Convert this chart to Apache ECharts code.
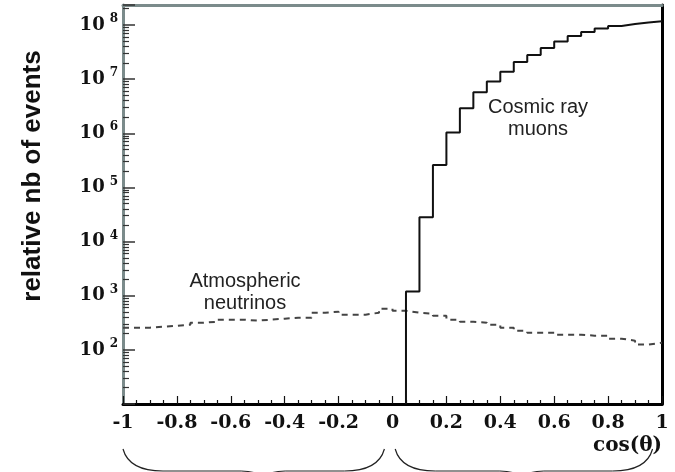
<!DOCTYPE html>
<html>
<head>
<meta charset="utf-8">
<script src="https://cdn.jsdelivr.net/npm/echarts@6/dist/echarts.min.js"></script>
<style>html,body{margin:0;padding:0;background:#fff;}#c{width:675px;height:472px;}</style>
</head>
<body>
<div id="c"></div>
<script>
// ---- data ----
const neutrinoEdges = [-1,-0.95,-0.9,-0.85,-0.8,-0.75,-0.7,-0.65,-0.6,-0.55,-0.5,-0.45,-0.4,-0.35,-0.3,-0.25,-0.2,-0.15,-0.1,-0.05,0,0.05,0.1,0.15,0.2,0.25,0.3,0.35,0.4,0.45,0.5,0.55,0.6,0.65,0.7,0.75,0.8,0.85,0.9,0.95,1];
const neutrinoCounts = [257,257,268,279,292,318,331,361,361,346,361,377,393,393,485,507,446,446,485,575,528,485,466,428,361,331,318,292,257,226,207,207,190,190,183,183,161,148,125,136];
const muonEdges = [0.05,0.1,0.15,0.2,0.25,0.3,0.35,0.4,0.45,0.5,0.55,0.6,0.65,0.7,0.75,0.8,0.85,0.9,0.95,1];
const muonCounts = [1190,28000,260000,1030000,2900000,5700000,9000000,13700000,20700000,28000000,37700000,49600000,62700000,74300000,86000000,96000000,104000000,111000000,117000000];
const yLabelExponents = [2,3,4,5,6,7,8];
const xMin = -1, xMax = 1, xInterval = 0.2;
const yMin = 10, yMax = 2.34e8;
const braceRanges = [[-1, -0.03, -0.48], [0.01, 0.965, 0.48]];
const yTitle = 'relative nb of events';
const xTitle = 'cos(θ)';
const labelNeutrino = 'Atmospheric\nneutrinos';
const labelMuon = 'Cosmic ray\nmuons';

// ---- derived ----
const neutrinoData = neutrinoCounts.map((v, i) => [neutrinoEdges[i], v]);
neutrinoData.push([neutrinoEdges[neutrinoEdges.length - 1], neutrinoCounts[neutrinoCounts.length - 1]]);
const muonData = [[muonEdges[0], yMin]].concat(muonCounts.map((v, i) => [muonEdges[i], v]));
muonData.push([muonEdges[muonEdges.length - 1], muonCounts[muonCounts.length - 1]]);

const chart = echarts.init(document.getElementById('c'));
const gray = '#7b8b8b';
const serif = 'DejaVu Serif';
const option = {
  animation: false,
  grid: {left: 123, right: 13, top: 5, bottom: 68},
  xAxis: [{
    type: 'value', min: xMin, max: xMax, interval: xInterval, position: 'bottom',
    axisLine: {show: true, onZero: false, lineStyle: {color: '#000', width: 3}},
    axisTick: {show: true, inside: true, length: 8, lineStyle: {color: '#111', width: 1.2}},
    minorTick: {show: true, splitNumber: 4, length: 4, lineStyle: {color: '#111', width: 1.2}},
    axisLabel: {margin: 10, color: '#111', fontFamily: serif, fontWeight: 'bold', fontSize: 19},
    splitLine: {show: false}
  }, {
    type: 'value', min: xMin, max: xMax, position: 'top',
    axisLine: {show: true, onZero: false, lineStyle: {color: gray, width: 3}},
    axisTick: {show: false}, axisLabel: {show: false}, splitLine: {show: false}
  }],
  yAxis: [{
    type: 'log', min: yMin, max: yMax, position: 'left',
    axisLine: {show: true, onZero: false, lineStyle: {color: gray, width: 3}},
    axisTick: {show: true, inside: true, length: 12, lineStyle: {color: '#333', width: 1.5}},
    minorTick: {show: true, splitNumber: 9, length: 6, lineStyle: {color: '#333', width: 1.2}},
    axisLabel: {
      show: true, margin: 5,
      formatter: v => {
        const e = Math.log10(v), r = Math.round(e);
        if (Math.abs(e - r) > 1e-6 || yLabelExponents.indexOf(r) < 0) return '';
        return '{b|10}{e|' + r + '}';
      },
      rich: {
        b: {fontFamily: serif, fontWeight: 'bold', fontSize: 18, color: '#111', lineHeight: 24},
        e: {fontFamily: serif, fontWeight: 'bold', fontSize: 12, color: '#111', lineHeight: 12, verticalAlign: 'top', padding: [0, 0, 0, 5]}
      }
    },
    splitLine: {show: false}
  }, {
    type: 'log', min: yMin, max: yMax, position: 'right',
    axisLine: {show: true, onZero: false, lineStyle: {color: '#000', width: 3}},
    axisTick: {show: false}, axisLabel: {show: false}, splitLine: {show: false}
  }],
  series: [{
    name: 'Atmospheric neutrinos', type: 'line', step: 'end', data: neutrinoData,
    xAxisIndex: 0, yAxisIndex: 0, showSymbol: false, symbol: 'none',
    lineStyle: {color: '#444', width: 2, type: [6, 5]}, z: 3
  }, {
    name: 'Cosmic ray muons', type: 'line', step: 'end', data: muonData,
    xAxisIndex: 0, yAxisIndex: 0, showSymbol: false, symbol: 'none',
    lineStyle: {color: '#111', width: 2}, z: 4
  }]
};
chart.setOption(option);

const px = x => chart.convertToPixel({xAxisIndex: 0}, x);
const braceStyle = {fill: 'none', stroke: '#222', lineWidth: 1.2};
const braces = [];
braceRanges.forEach(r => {
  const x1 = px(r[0]), x2 = px(r[1]), tip = px(r[2]);
  const yTop = 449, yFlat = 471, yTip = 480;
  braces.push(
    {type: 'bezierCurve', shape: {x1: x1, y1: yTop, cpx1: x1 + 6, cpy1: yFlat, x2: x1 + 40, y2: yFlat}, style: braceStyle, silent: true},
    {type: 'line', shape: {x1: x1 + 40, y1: yFlat, x2: tip - 22, y2: yFlat}, style: braceStyle, silent: true},
    {type: 'bezierCurve', shape: {x1: tip - 22, y1: yFlat, cpx1: tip - 4, cpy1: yFlat, x2: tip, y2: yTip}, style: braceStyle, silent: true},
    {type: 'bezierCurve', shape: {x1: tip, y1: yTip, cpx1: tip + 4, cpy1: yFlat, x2: tip + 22, y2: yFlat}, style: braceStyle, silent: true},
    {type: 'line', shape: {x1: tip + 22, y1: yFlat, x2: x2 - 40, y2: yFlat}, style: braceStyle, silent: true},
    {type: 'bezierCurve', shape: {x1: x2 - 40, y1: yFlat, cpx1: x2 - 6, cpy1: yFlat, x2: x2, y2: yTop}, style: braceStyle, silent: true}
  );
});

chart.setOption({
  graphic: [
    {type: 'text', x: 33, y: 176, rotation: Math.PI / 2, style: {text: yTitle, fontFamily: 'Liberation Sans', fontWeight: 'bold', fontSize: 26, fill: '#111', textAlign: 'center', textVerticalAlign: 'middle'}},
    {type: 'text', x: 662, y: 446, style: {text: xTitle, fontFamily: serif, fontWeight: 'bold', fontSize: 20, fill: '#111', textAlign: 'right', textVerticalAlign: 'middle'}},
    {type: 'text', x: 245, y: 292, style: {text: labelNeutrino, fontFamily: 'Liberation Sans', fontSize: 20, lineHeight: 22, fill: '#222', textAlign: 'center', textVerticalAlign: 'middle'}},
    {type: 'text', x: 538, y: 118, style: {text: labelMuon, fontFamily: 'Liberation Sans', fontSize: 20, lineHeight: 22, fill: '#222', textAlign: 'center', textVerticalAlign: 'middle'}}
  ].concat(braces)
});
</script>
</body>
</html>
